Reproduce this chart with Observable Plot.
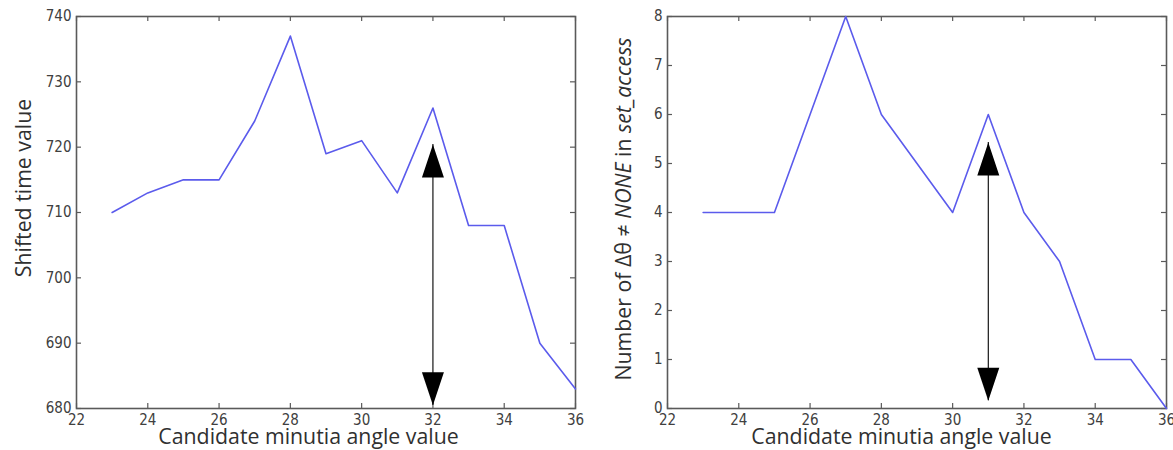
<!DOCTYPE html>
<html>
<head>
<meta charset="utf-8">
<script src="https://cdn.jsdelivr.net/npm/d3@7"></script>
<script src="https://cdn.jsdelivr.net/npm/@observablehq/plot@0.6"></script>
<style>
html, body { margin: 0; padding: 0; background: #fff; }
#wrap { display: flex; width: 1173px; height: 450px; overflow: hidden; }
#wrap svg { display: block; flex: none; }
</style>
</head>
<body>
<div id="wrap"></div>
<script>
// ---- data ----
const angles = [23, 24, 25, 26, 27, 28, 29, 30, 31, 32, 33, 34, 35, 36];
const shiftedTime = [710, 713, 715, 715, 724, 737, 719, 721, 713, 726, 708, 708, 690, 683];
const countNonNone = [4, 4, 4, 6, 8, 6, 5, 4, 6, 4, 3, 1, 1, 0];
const xTicks = [22, 24, 26, 28, 30, 32, 34, 36];
const yTicksLeft = [680, 690, 700, 710, 720, 730, 740];
const yTicksRight = [0, 1, 2, 3, 4, 5, 6, 7, 8];
const arrowLeft = [{x: 32, from: 680.5, to: 720.4}];
const arrowRight = [{x: 31, from: 0.16, to: 5.43}];
const xLabel = "Candidate minutia angle value";
const yLabelLeft = [{t: "Shifted time value", i: false}];
const yLabelRight = [
  {t: "Number of Δθ ≠ ", i: false},
  {t: "NONE", i: true},
  {t: " in ", i: false},
  {t: "set_access", i: true}
];

// ---- drawing ----
const HEIGHT = 450, MT = 16, MB = 42;
const tickFont = '"Liberation Sans Narrow", "DejaVu Sans Condensed", "Arial Narrow", sans-serif';
const labelFont = '"Open Sans", "Noto Sans", sans-serif';

const headUp = { draw(ctx) { ctx.moveTo(0, 0); ctx.lineTo(11, 33); ctx.lineTo(-11, 33); ctx.closePath(); } };
const headDown = { draw(ctx) { ctx.moveTo(0, 0); ctx.lineTo(11, -33); ctx.lineTo(-11, -33); ctx.closePath(); } };

function makeChart({width, marginLeft, marginRight, yDomain, yTicks, values, arrow, yLabel, yLabelX, yLabelShift, xLabelShift}) {
  const data = angles.map((a, k) => ({x: a, y: values[k]}));
  const fw = width - marginLeft - marginRight;
  const fh = HEIGHT - MT - MB;
  const tickStroke = "#5a5a5a";
  const plot = Plot.plot({
    width, height: HEIGHT,
    marginLeft, marginRight, marginTop: MT, marginBottom: MB,
    style: {background: "#fff", overflow: "visible"},
    x: {domain: [22, 36], label: null},
    y: {domain: yDomain, label: null},
    marks: [
      Plot.tickX(xTicks, {x: d => d, stroke: tickStroke, strokeWidth: 1.2, insetTop: fh - 5}),
      Plot.tickX(xTicks, {x: d => d, stroke: tickStroke, strokeWidth: 1.2, insetBottom: fh - 5}),
      Plot.tickY(yTicks, {y: d => d, stroke: tickStroke, strokeWidth: 1.2, insetRight: fw - 5}),
      Plot.tickY(yTicks, {y: d => d, stroke: tickStroke, strokeWidth: 1.2, insetLeft: fw - 5}),
      Plot.frame({stroke: tickStroke, strokeWidth: 1.6}),
      Plot.axisX(xTicks, {anchor: "bottom", tickSize: 0, tickPadding: 6, fontSize: 15, fill: "#404040", fontFamily: tickFont, label: null}),
      Plot.axisY(yTicks, {anchor: "left", tickSize: 0, tickPadding: 5, fontSize: 15, fill: "#404040", fontFamily: tickFont, label: null}),
      Plot.line(data, {x: "x", y: "y", stroke: "#5b5bec", strokeWidth: 1.6}),
      Plot.ruleX(arrow, {x: "x", y1: "from", y2: "to", stroke: "#000", strokeWidth: 1.1}),
      Plot.dot(arrow, {x: "x", y: "to", symbol: headUp, fill: "#000", stroke: null}),
      Plot.dot(arrow, {x: "x", y: "from", symbol: headDown, fill: "#000", stroke: null})
    ]
  });
  const svg = d3.select(plot);
  const [xa, xb] = plot.scale("x").range;
  const [yb, ya] = plot.scale("y").range;
  svg.append("text")
    .attr("x", (xa + xb) / 2 + xLabelShift)
    .attr("y", 444)
    .attr("text-anchor", "middle")
    .style("font-family", labelFont)
    .style("font-size", "21.3px")
    .attr("fill", "#303030")
    .text(xLabel);
  const t = svg.append("text")
    .attr("transform", `translate(${yLabelX},${(ya + yb) / 2 + yLabelShift}) rotate(-90)`)
    .attr("text-anchor", "middle")
    .style("font-family", labelFont)
    .style("font-size", "21.3px")
    .attr("fill", "#303030");
  yLabel.forEach(p => {
    t.append("tspan").style("font-style", p.i ? "italic" : "normal").text(p.t);
  });
  return plot;
}

const wrap = document.getElementById("wrap");
wrap.appendChild(makeChart({
  width: 586, marginLeft: 76, marginRight: 11,
  yDomain: [680, 740], yTicks: yTicksLeft, values: shiftedTime,
  arrow: arrowLeft, yLabel: yLabelLeft, yLabelX: 31, yLabelShift: -24, xLabelShift: -17
}));
wrap.appendChild(makeChart({
  width: 587, marginLeft: 81, marginRight: 7,
  yDomain: [0, 8], yTicks: yTicksRight, values: countNonNone,
  arrow: arrowRight, yLabel: yLabelRight, yLabelX: 45, yLabelShift: -3, xLabelShift: -15
}));
</script>
</body>
</html>
